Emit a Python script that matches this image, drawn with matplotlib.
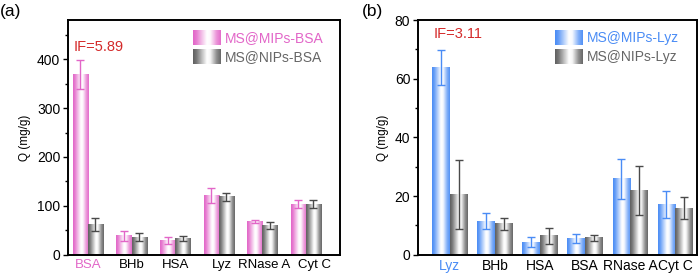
import numpy as np
import matplotlib
matplotlib.use("Agg")
import matplotlib.pyplot as plt
from matplotlib.colors import to_rgb
from matplotlib.transforms import ScaledTranslation

plt.rcParams['font.family'] = ['Liberation Sans', 'DejaVu Sans']

# ---------------- data ----------------
cats_a = ["BSA", "BHb", "HSA", "Lyz", "RNase A", "Cyt C"]
mip_a = [368, 39, 29, 121, 68, 104]
mip_a_err = [30, 10, 7, 16, 3, 9]
nip_a = [62, 36, 34, 119, 60, 104]
nip_a_err = [14, 8, 5, 8, 8, 8]

cats_b = ["Lyz", "BHb", "HSA", "BSA", "RNase A", "Cyt C"]
mip_b = [63.8, 11.4, 4.3, 5.5, 25.9, 17.2]
mip_b_err = [6.0, 2.7, 1.8, 1.5, 6.8, 4.6]
nip_b = [20.5, 10.6, 6.5, 5.8, 22.0, 16.0]
nip_b_err = [11.7, 2.0, 2.8, 1.0, 8.4, 3.8]

legend_a = ["MS@MIPs-BSA", "MS@NIPs-BSA"]
legend_b = ["MS@MIPs-Lyz", "MS@NIPs-Lyz"]
if_a = "IF=5.89"
if_b = "IF=3.11"

PINK = "#E266C8"
BLUE = "#4A8CF5"
GRAY = "#606060"
RED = "#D42A2A"


def grad_img(color):
    t = np.linspace(0, 1, 64)
    k = np.interp(t, [0, 0.12, 0.5, 0.62, 0.85, 1], [1, 0.85, 0.0, 0.05, 0.7, 0.95])
    c = np.array(to_rgb(color))
    w = np.ones(3)
    img = w[None, :] * (1 - k[:, None]) + c[None, :] * k[:, None]
    return img[None, :, :]


def gbar(ax, x, h, width, color):
    bars = ax.bar(x, h, width, color='none', edgecolor='none', zorder=2)
    img = grad_img(color)
    for b in bars:
        x0 = b.get_x()
        ax.imshow(img, extent=[x0, x0 + b.get_width(), 0, b.get_height()],
                  aspect='auto', zorder=2, interpolation='bilinear')


def panel(ax, cats, mip, mip_err, nip, nip_err, w, col, ylim, major, minor,
          xlim, leg, iftext, ifpos, legx, lab_shift_px, xfs):
    x = np.arange(len(cats))
    gbar(ax, x - w / 2, mip, w, col)
    gbar(ax, x + w / 2, nip, w, GRAY)
    ax.errorbar(x - w / 2, mip, yerr=mip_err, fmt='none', ecolor=col,
                elinewidth=1.0, capsize=3, capthick=1.0, zorder=3)
    ax.errorbar(x + w / 2, nip, yerr=nip_err, fmt='none', ecolor='#4a4a4a',
                elinewidth=1.0, capsize=3, capthick=1.0, zorder=3)
    ax.set_xlim(*xlim)
    ax.set_ylim(*ylim)
    ax.set_yticks(np.arange(0, ylim[1] + 0.1, major))
    ax.set_yticks(np.arange(0, ylim[1] + 0.1, minor), minor=True)
    ax.set_xticks(x)
    ax.set_xticklabels([])
    base = ax.get_xaxis_transform()
    for i, (name, dx) in enumerate(zip(cats, lab_shift_px)):
        tr = base + ScaledTranslation(dx / 100.0, -4 / 100.0, ax.figure.dpi_scale_trans)
        ax.text(x[i], 0, name, transform=tr, ha='center', va='top',
                fontsize=xfs, color=col if i == 0 else 'black', clip_on=False)
    ax.tick_params(axis='x', length=0, pad=3)
    ax.tick_params(axis='y', which='major', length=3.5, width=1, labelsize=10, pad=2)
    ax.tick_params(axis='y', which='minor', length=2, width=1)
    for s in ax.spines.values():
        s.set_linewidth(1.4)
    ax.set_ylabel("Q (mg/g)", fontsize=8.5, labelpad=4)
    ax.text(ifpos[0], ifpos[1], iftext, color=RED, fontsize=10.5,
            transform=ax.transAxes, va='center', ha='left')
    # legend drawn manually
    for i, (lab, c) in enumerate(zip(leg, [col, GRAY])):
        yc = 0.923 - i * 0.08
        ax.imshow(grad_img(c), extent=[legx, legx + 0.10, yc - 0.03, yc + 0.03],
                  transform=ax.transAxes, aspect='auto', zorder=4,
                  interpolation='bilinear')
        ax.text(legx + 0.115, yc, lab, color=c if i == 0 else '#666666',
                fontsize=10, transform=ax.transAxes, va='center', ha='left')
    ax.set_xlim(*xlim)
    ax.set_ylim(*ylim)


fig = plt.figure(figsize=(7.0, 2.74), dpi=100)
ax1 = fig.add_axes([0.097, 0.070, 0.389, 0.857])
ax2 = fig.add_axes([0.597, 0.070, 0.399, 0.857])

panel(ax1, cats_a, mip_a, mip_a_err, nip_a, nip_a_err, 0.345, PINK,
      (0, 480), 100, 50, (-0.46, 5.79), legend_a, if_a, (0.02, 0.885), 0.46,
      [0, 0, 0, 3, 2, 9], 9.5)
panel(ax2, cats_b, mip_b, mip_b_err, nip_b, nip_b_err, 0.39, BLUE,
      (0, 80), 20, 10, (-0.71, 5.49), legend_b, if_b, (0.055, 0.94), 0.49,
      [0, 0, 0, 0, 0, 0], 10)

fig.text(0.0, 0.985, "(a)", fontsize=12.5, va='top', ha='left')
fig.text(0.517, 0.985, "(b)", fontsize=12.5, va='top', ha='left')

fig.savefig("out.png", dpi=100)
